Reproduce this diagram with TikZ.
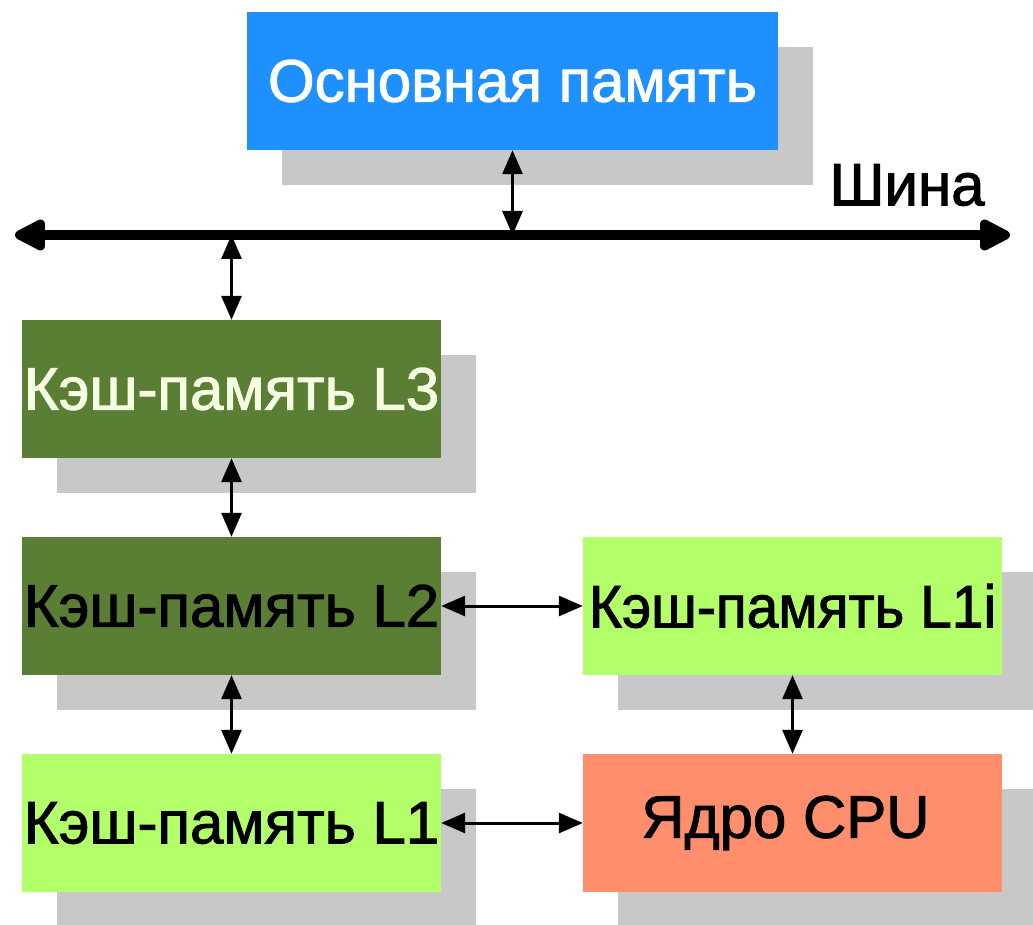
\documentclass[tikz,border=0pt]{standalone}
\usepackage{fontspec}
\setmainfont{Liberation Sans}[UprightFeatures={FakeBold=1.6}]
\usetikzlibrary{arrows.meta,shadows}
\definecolor{memblue}{RGB}{30,144,255}
\definecolor{darkgrn}{RGB}{90,127,52}
\definecolor{lightgrn}{RGB}{178,255,106}
\definecolor{salmonc}{RGB}{255,142,108}
\definecolor{shadowgray}{RGB}{200,200,200}
\definecolor{creamtext}{RGB}{245,255,225}
\tikzset{
  box/.style={rectangle, inner sep=0pt, minimum width=419pt, minimum height=138pt,
    font=\fontsize{60}{72}\selectfont,
    drop shadow={shadow xshift=35pt, shadow yshift=-35pt, fill=shadowgray, opacity=1}},
  link/.style={line width=3pt, {Triangle[length=24pt,width=20pt]}-{Triangle[length=24pt,width=20pt]}},
  busline/.style={line width=10pt, {Triangle[length=36pt,width=34pt,round]}-{Triangle[length=36pt,width=34pt,round]}}
}
\begin{document}
\begin{tikzpicture}[x=1pt,y=-1pt]
\useasboundingbox (0,0) rectangle (1033,925);
\clip (0,0) rectangle (1033,925);
\fill[white] (0,0) rectangle (1033,925);
% boxes
\node[box, fill=memblue, text=white, minimum width=531pt] (mem) at (512.5,81) {Основная память};
\node[box, fill=darkgrn, text=creamtext] (l3) at (231.5,389) {Кэш-память L3};
\node[box, fill=darkgrn, text=black] (l2) at (231.5,606) {Кэш-память L2};
\node[box, fill=lightgrn, text=black] (l1) at (231.5,823) {Кэш-память L1};
\node[box, fill=lightgrn, text=black] (l1i) at (792.5,606) {\scalebox{0.95}[1]{Кэш-память L1i}};
\node[box, fill=salmonc, text=black] (cpu) at (792.5,823) {\hspace*{-14pt}Ядро CPU};
% bus
\coordinate (busL) at (15,235);
\coordinate (busR) at (1010,235);
\draw[busline] (busL) -- (busR);
\node[font=\fontsize{60}{72}\selectfont, anchor=center] (shina) at (907,185) {Шина};
% connections
\coordinate (busmem) at (mem.south |- busL);
\coordinate (busl3) at (l3.north |- busL);
\draw[link] (mem.south) -- (busmem);
\draw[link] (busl3) -- (l3.north);
\draw[link] (l3.south) -- (l2.north);
\draw[link] (l2.south) -- (l1.north);
\draw[link] (l2.east) -- (l1i.west);
\draw[link] (l1.east) -- (cpu.west);
\draw[link] (l1i.south) -- (cpu.north);
\end{tikzpicture}
\end{document}
